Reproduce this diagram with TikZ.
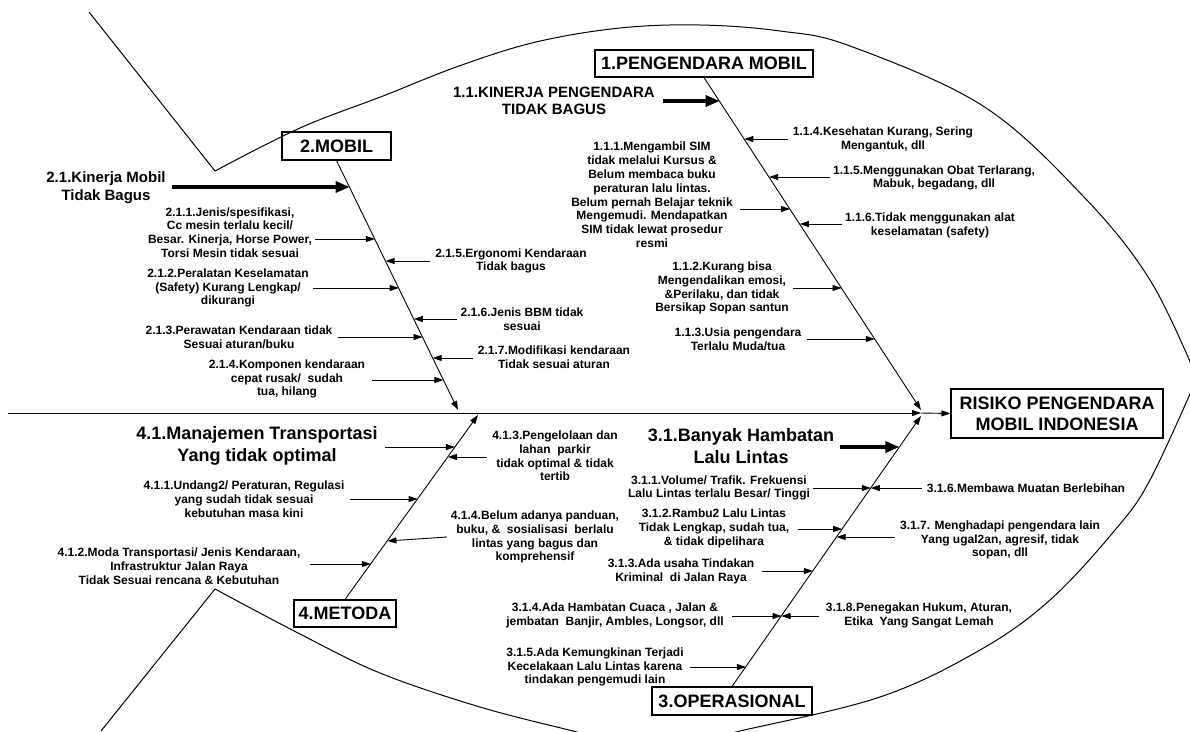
\documentclass[tikz,border=0pt]{standalone}
\usepackage{fontspec}
\setmainfont{Liberation Sans}
\usetikzlibrary{arrows.meta}
\def\bxA{704}\def\byA{77}\def\bsA{0.6517}
\def\bxB{336.5}\def\byB{160}\def\bsB{0.486}
\def\bxC{732}\def\byC{687}\def\bsC{-0.6974}
\def\bxD{345}\def\byD{600}\def\bsD{-0.7189}
% rib arrow: [style]{name}{x}{y}{bone}
\newcommand\rib[5][arr]{%
  \pgfmathsetmacro\ribx{\csname bx#5\endcsname+(#4-\csname by#5\endcsname)*\csname bs#5\endcsname}%
  \coordinate (#2s) at (#3,#4);%
  \coordinate (#2e) at (\ribx,#4);%
  \draw[#1] (#2s) -- (#2e);}
\begin{document}
\begin{tikzpicture}[x=1pt,y=-1pt,
  lbl/.style={font=\fontsize{12}{13.8}\selectfont\bfseries,align=center,inner sep=0pt},
  mid/.style={font=\fontsize{15}{17.5}\selectfont\bfseries,align=center,inner sep=0pt},
  big/.style={font=\fontsize{18}{22}\selectfont\bfseries,align=center,inner sep=0pt},
  catbox/.style={draw,line width=1.1pt,font=\fontsize{18}{21}\selectfont\bfseries,align=center,inner sep=0pt},
  arr/.style={-{Triangle[length=9pt,width=6pt]},line width=0.9pt},
  tarr/.style={-{Triangle[length=14pt,width=11pt]},line width=3.2pt},
  fish/.style={line width=1pt}]
\fill[white] (0,0) rectangle (1190,731);
\useasboundingbox (0,0) rectangle (1190,731);
% fish outline
\begin{scope}
\clip (0,0) rectangle (1190,731);
\draw[fish] (89,12) -- (215,171);
\draw[fish] plot[smooth,tension=0.6] coordinates {(215,171) (300,128) (383,96) (459,66) (536,42) (620,28) (700,25) (780,31) (850,46) (983,106) (1083,196) (1150,280) (1197,378)};
\draw[fish] plot[smooth,tension=0.6] coordinates {(1197,378) (1150,480) (1115,530) (1050,600) (980,650) (880,697) (740,731) (700,740)};
\draw[fish] (215,589) -- (101,731);
\draw[fish] plot[smooth,tension=0.6] coordinates {(215,589) (300,634) (380,673) (480,707) (573,731) (610,740)};
\end{scope}
% head and category boxes
\node[catbox,minimum width=212pt,minimum height=49pt,font=\fontsize{18}{21}\selectfont\bfseries] (R) at (1057,413.5) {RISIKO PENGENDARA\\MOBIL INDONESIA};
\node[catbox,minimum width=218pt,minimum height=27pt] (B1) at (704,63.5) {1.PENGENDARA MOBIL};
\node[catbox,minimum width=109pt,minimum height=28pt] (B2) at (336.5,146) {2.MOBIL};
\node[catbox,minimum width=160pt,minimum height=28pt] (B3) at (732,701) {3.OPERASIONAL};
\node[catbox,minimum width=102pt,minimum height=27pt] (B4) at (345,613.5) {4.METODA};
% spine and bones
\coordinate (S0) at (8,413);
\coordinate (J) at (921,413);
\coordinate (J1) at (921,410);
\coordinate (J2) at (458,410);
\coordinate (J3) at (921,416);
\coordinate (J4) at (478,415);
\draw[arr] (S0) -- (J);
\draw[arr] (J) -- (R.west);
\draw[arr] (B1.south) -- (J1);
\draw[arr] (B2.south) -- (J2);
\draw[arr] (B3.north) -- (J3);
\draw[arr] (B4.north) -- (J4);
% ---- bone 1
\node[mid] (t11) at (554,101) {1.1.KINERJA PENGENDARA\\TIDAK BAGUS};
\rib[tarr]{r11}{663}{101}{A}
\node[lbl] (t111) at (652,195) {1.1.1.Mengambil SIM\\tidak melalui Kursus \&\\Belum membaca buku\\peraturan lalu lintas.\\Belum pernah Belajar teknik\\Mengemudi. Mendapatkan\\SIM tidak lewat prosedur\\resmi};
\rib{r111}{740}{209}{A}
\node[lbl] (t112) at (722,288) {1.1.2.Kurang bisa\\Mengendalikan emosi,\\\&Perilaku, dan tidak\\Bersikap Sopan santun};
\rib{r112}{793}{288}{A}
\node[lbl] (t113) at (738,339) {1.1.3.Usia pengendara\\Terlalu Muda/tua};
\rib{r113}{807}{339}{A}
\node[lbl] (t114) at (883,139.5) {1.1.4.Kesehatan Kurang, Sering\\Mengantuk, dll};
\rib{r114}{788}{139}{A}
\node[lbl] (t115) at (934,178) {1.1.5.Menggunakan Obat Terlarang,\\Mabuk, begadang, dll};
\rib{r115}{830}{177}{A}
\node[lbl] (t116) at (930,225) {1.1.6.Tidak menggunakan alat\\keselamatan (safety)};
\rib{r116}{842}{224}{A}
% ---- bone 2
\node[mid] (t21) at (106,187.5) {2.1.Kinerja Mobil\\Tidak Bagus};
\rib[tarr]{r21}{172}{187}{B}
\node[lbl] (t211) at (230,232.5) {2.1.1.Jenis/spesifikasi,\\Cc mesin terlalu kecil/\\Besar. Kinerja, Horse Power,\\Torsi Mesin tidak sesuai};
\rib{r211}{315}{239}{B}
\node[lbl] (t212) at (228,288) {2.1.2.Peralatan Keselamatan\\(Safety) Kurang Lengkap/\\dikurangi};
\rib{r212}{313}{288}{B}
\node[lbl] (t213) at (239,337.5) {2.1.3.Perawatan Kendaraan tidak\\Sesuai aturan/buku};
\rib{r213}{338}{337}{B}
\node[lbl] (t214) at (287,379) {2.1.4.Komponen kendaraan\\cepat rusak/~ sudah\\tua, hilang};
\rib{r214}{372}{380}{B}
\node[lbl] (t215) at (511,261) {2.1.5.Ergonomi Kendaraan\\Tidak bagus};
\rib{r215}{430}{261}{B}
\node[lbl] (t216) at (522,319) {2.1.6.Jenis BBM tidak\\sesuai};
\rib{r216}{457}{319}{B}
\node[lbl] (t217) at (554,357) {2.1.7.Modifikasi kendaraan\\Tidak sesuai aturan};
\rib{r217}{473}{358}{B}
% ---- bone 4
\node[big] (t41) at (257,446) {4.1.Manajemen Transportasi\\Yang tidak optimal};
\rib{r41}{385}{447}{D}
\node[lbl] (t411) at (244,499) {4.1.1.Undang2/ Peraturan, Regulasi\\yang sudah tidak sesuai\\kebutuhan masa kini};
\rib{r411}{350}{499}{D}
\node[lbl] (t412) at (179,566) {4.1.2.Moda Transportasi/ Jenis Kendaraan,\\Infrastruktur Jalan Raya\\Tidak Sesuai rencana \& Kebutuhan};
\rib{r412}{310}{564}{D}
\node[lbl] (t413) at (555,456) {4.1.3.Pengelolaan dan\\lahan~ parkir\\tidak optimal \& tidak\\tertib};
\rib{r413}{487}{457}{D}
\node[lbl] (t414) at (535,537) {4.1.4.Belum adanya panduan,\\buku, \&~ sosialisasi~ berlalu\\lintas yang bagus dan\\komprehensif};
\coordinate (r414s) at (447,537);
\coordinate (r414e) at (387.4,541);
\draw[arr] (r414s) -- (r414e);
% ---- bone 3
\node[big] (t31) at (741,446) {3.1.Banyak Hambatan\\Lalu Lintas};
\rib[tarr]{r31}{840}{447}{C}
\node[lbl] (t311) at (719,488) {3.1.1.Volume/ Trafik. Frekuensi\\Lalu Lintas terlalu Besar/ Tinggi};
\rib{r311}{813}{488}{C}
\node[lbl] (t312) at (714,528.5) {3.1.2.Rambu2 Lalu Lintas\\Tidak Lengkap, sudah tua,\\\& tidak dipelihara};
\rib{r312}{798}{529}{C}
\node[lbl] (t313) at (681,571) {3.1.3.Ada usaha Tindakan\\Kriminal~ di Jalan Raya};
\rib{r313}{762}{571}{C}
\node[lbl] (t314) at (615,615.5) {3.1.4.Ada Hambatan Cuaca , Jalan \&\\jembatan~ Banjir, Ambles, Longsor, dll};
\rib{r314}{732}{616}{C}
\node[lbl] (t315) at (595,667) {3.1.5.Ada Kemungkinan Terjadi\\Kecelakaan Lalu Lintas karena\\tindakan pengemudi lain};
\rib{r315}{690}{667}{C}
\node[lbl] (t316) at (1026,488) {3.1.6.Membawa Muatan Berlebihan};
\rib{r316}{922}{488}{C}
\node[lbl] (t317) at (1000,540) {3.1.7. Menghadapi pengendara lain\\Yang ugal2an, agresif, tidak\\sopan, dll};
\rib{r317}{895}{537}{C}
\node[lbl] (t318) at (919,615.5) {3.1.8.Penegakan Hukum, Aturan,\\Etika~ Yang Sangat Lemah};
\rib{r318}{819}{616}{C}
\end{tikzpicture}
\end{document}
